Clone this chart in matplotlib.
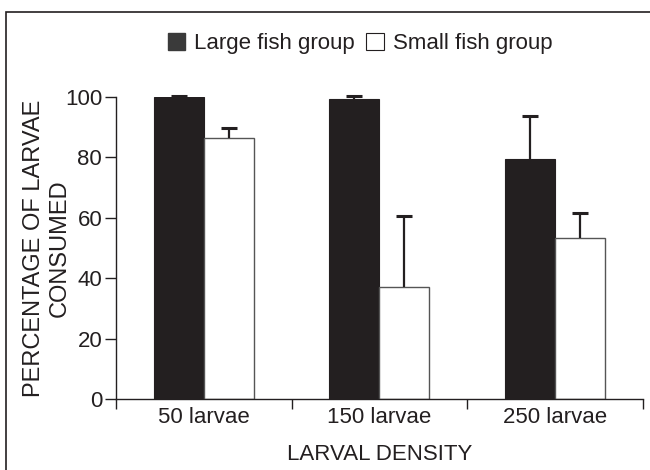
import numpy as np
import matplotlib
matplotlib.use("Agg")
import matplotlib.pyplot as plt
from matplotlib.patches import Patch, Rectangle

plt.rcParams['font.family'] = ['Liberation Sans', 'DejaVu Sans']

# Data
categories = ["50 larvae", "150 larvae", "250 larvae"]
large_fish = [100.0, 99.2, 79.5]
large_err = [0.3, 1.2, 14.2]
small_fish = [86.3, 37.2, 53.2]
small_err = [3.3, 23.2, 8.2]

DARK = "#231f20"

fig = plt.figure(figsize=(6.5, 4.7), dpi=100)
ax = fig.add_axes([0.1785, 0.151, 0.8105, 0.643])

x = np.arange(len(categories))
w = 0.285

ax.bar(x - w / 2, large_fish, width=w, color=DARK, edgecolor=DARK, linewidth=0.8, zorder=2)
ax.bar(x + w / 2, small_fish, width=w, color="white", edgecolor="#555555", linewidth=1.0, zorder=2)

# one-sided (upper) error bars: hide the lower caps
for pos, vals, errs in [(x - w / 2, large_fish, large_err), (x + w / 2, small_fish, small_err)]:
    eb = ax.errorbar(pos, vals, yerr=[np.zeros(len(errs)), errs], fmt="none",
                     ecolor=DARK, elinewidth=1.6, capsize=6, capthick=2.2, zorder=3)
    caps = eb.lines[1]
    caps[0].set_visible(False)
    for c in caps:
        c.set_clip_on(False)
    for l in eb.lines[2]:
        l.set_clip_on(False)

ax.set_xlim(-0.5, len(categories) - 0.5)
ax.set_ylim(0, 100)

# group boundaries get the tick marks, centres get the labels
ax.set_xticks(np.arange(-0.5, len(categories), 1.0))
ax.set_xticklabels([])
ax.set_xticks(x, minor=True)
ax.set_xticklabels(categories, minor=True, fontsize=16)
ax.tick_params(axis="x", which="major", length=7, width=1, color=DARK, direction="out")
ax.tick_params(axis="x", which="minor", length=0, pad=6, labelcolor=DARK)

ax.set_yticks([0, 20, 40, 60, 80, 100])
ax.tick_params(axis="y", length=8, width=1, color=DARK, labelsize=16, labelcolor=DARK, pad=2)

for side in ["top", "right"]:
    ax.spines[side].set_visible(False)
for side in ["left", "bottom"]:
    ax.spines[side].set_color(DARK)
    ax.spines[side].set_linewidth(1.0)

ax.set_xlabel("LARVAL DENSITY", fontsize=16, color=DARK, labelpad=11)
ax.set_ylabel("PERCENTAGE OF LARVAE\nCONSUMED", fontsize=17, color=DARK, labelpad=-4,
              linespacing=1.2)

handles = [Patch(facecolor="#3a3a3a", edgecolor="#3a3a3a", label="Large fish group"),
           Patch(facecolor="white", edgecolor=DARK, linewidth=0.8, label="Small fish group")]
fig.legend(handles=handles, loc="center", bbox_to_anchor=(0.554, 0.908), ncol=2,
           frameon=False, fontsize=16, handlelength=0.8, handleheight=0.8,
           handletextpad=0.4, columnspacing=0.5, labelcolor=DARK)

# outer frame around the figure
fig.patches.append(Rectangle((6 / 650, -0.05), 1.2, 1.05 - 12 / 470, transform=fig.transFigure,
                             fill=False, edgecolor=DARK, linewidth=1.2))

fig.savefig("out.png", dpi=100)
